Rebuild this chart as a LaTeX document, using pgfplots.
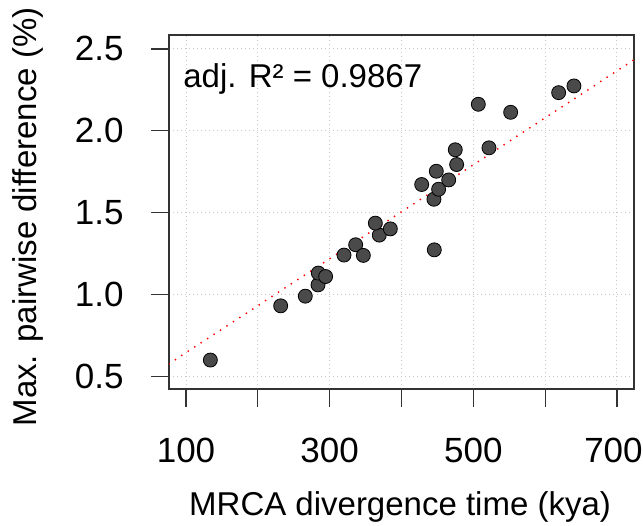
\documentclass[border=0pt]{standalone}
\usepackage{fontspec}
\setmainfont{Liberation Sans}
\usepackage{pgfplots}
\pgfplotsset{compat=1.18}
\definecolor{ptcol}{HTML}{4A4A4A}
\definecolor{axcol}{HTML}{333333}
\definecolor{gridcol}{HTML}{C8C8C8}

\pgfplotstableread{
x y
133.9 0.600
231.8 0.931
266.1 0.990
283.8 1.059
284.2 1.131
294.4 1.110
320.0 1.241
336.2 1.304
346.9 1.239
369.1 1.363
363.6 1.436
384.5 1.401
445.7 1.273
428.1 1.672
445.2 1.582
451.7 1.643
448.5 1.753
465.7 1.700
476.8 1.794
474.9 1.884
521.8 1.896
507.0 2.162
552.0 2.113
618.8 2.233
640.1 2.274
}\mrca

\begin{document}
\fontsize{16.5}{19}\selectfont
\begin{tikzpicture}
\begin{axis}[
  scale only axis, width=232.5pt, height=177pt,
  xmin=76.3, xmax=723.7, ymin=0.423, ymax=2.585,
  xtick={100,200,...,700}, xticklabels={100,,300,,500,,\hspace*{-3.5pt}700},
  ytick={0.5,1.0,1.5,2.0,2.5}, yticklabels={0.5,1.0,1.5,2.0,2.5},
  /pgf/number format/assume math mode=true,
  tick label style={font=\fontsize{17.5}{20}\selectfont},
  label style={font=\fontsize{16.5}{19}\selectfont},
  tick align=outside, major tick length=9pt,
  tick style={axcol, line width=0.6pt},
  axis line style={axcol, line width=0.6pt},
  xtick pos=bottom, ytick pos=left,
  grid=major, grid style={gridcol, line width=0.5pt, dash pattern=on 0.5pt off 1.5pt},
  xticklabel style={yshift=-10pt},
  yticklabel style={xshift=-8pt},
  xlabel={MRCA divergence time (kya)},
  ylabel={Max. pairwise difference (\%)},
  xlabel style={at={(axis description cs:0.497,-0.356)}, anchor=base},
  ylabel style={at={(axis description cs:-0.303,0.486)}, anchor=center},
]
\addplot[red, line width=1pt, dash pattern=on 0pt off 3.85pt, line cap=round]
  coordinates {(76.3,0.577) (723.7,2.434)};
\addplot[only marks, mark=*, mark size=3.5pt, mark options={draw=none, fill=ptcol}]
  table[x=x, y=y] {\mrca};
\node[anchor=base west, inner sep=0pt] at (axis cs:95.8,2.262) {adj. R² = 0.9867};
\coordinate (bl) at (rel axis cs:-0.3634,-0.3842);
\coordinate (tr) at (rel axis cs:1.0194,1.0989);
\end{axis}
\pgfresetboundingbox
\path (bl) rectangle (tr);
\end{tikzpicture}
\end{document}
